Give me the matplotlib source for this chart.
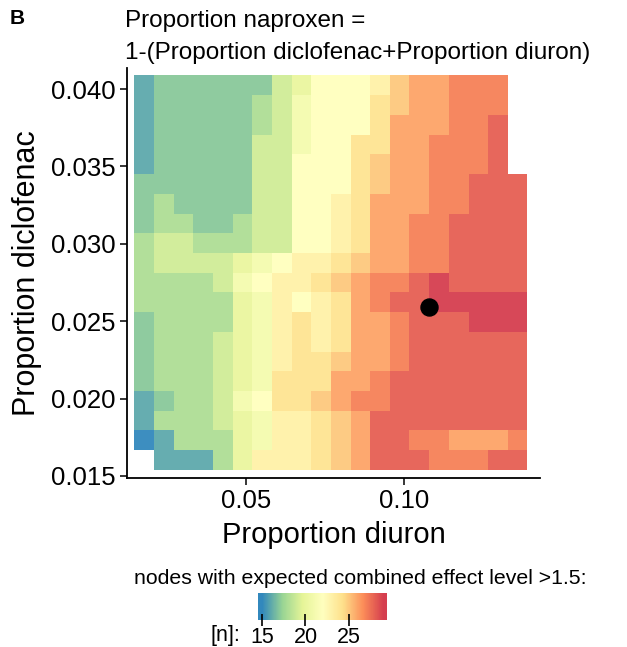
# Heatmap: nodes with expected combined effect level >1.5 over a diuron x diclofenac grid

import numpy as np
import matplotlib
matplotlib.use("Agg")
import matplotlib.pyplot as plt
from matplotlib.colors import LinearSegmentedColormap, Normalize

plt.rcParams['font.family'] = ['Liberation Sans', 'DejaVu Sans']

# grid of proportions (cell centres)
diuron = [0.0178, 0.0240, 0.0302, 0.0364, 0.0426, 0.0489, 0.0551, 0.0613, 0.0675, 0.0737,
          0.0800, 0.0862, 0.0924, 0.0986, 0.1048, 0.1111, 0.1173, 0.1235, 0.1297, 0.1359]
diclofenac = [0.01603, 0.01730, 0.01858, 0.01985, 0.02113, 0.02240, 0.02367, 0.02495, 0.02622, 0.02750,
              0.02877, 0.03004, 0.03132, 0.03259, 0.03387, 0.03514, 0.03641, 0.03769, 0.03896, 0.04024]

nan = np.nan
# number of nodes, rows listed from top (highest diclofenac) to bottom
nodes_top_down = [
    [16, 17, 17, 17, 17, 17, 17, 19, 20, 22, 22, 22, 23, 25, 26, 26, 27, 27, 27, nan],
    [16, 17, 17, 17, 17, 17, 18, 19, 21, 22, 22, 22, 24, 25, 26, 26, 27, 27, 27, nan],
    [16, 17, 17, 17, 17, 17, 18, 19, 21, 22, 22, 22, 24, 26, 26, 26, 27, 27, 28, nan],
    [16, 17, 17, 17, 17, 17, 19, 19, 21, 22, 22, 24, 24, 26, 26, 27, 27, 27, 28, nan],
    [16, 17, 17, 17, 17, 17, 19, 19, 22, 22, 22, 24, 25, 26, 26, 27, 27, 27, 28, nan],
    [17, 17, 17, 17, 17, 17, 19, 19, 22, 22, 22, 24, 25, 26, 26, 27, 27, 28, 28, 28],
    [17, 18, 17, 17, 17, 17, 19, 19, 22, 22, 23, 24, 26, 26, 26, 27, 27, 28, 28, 28],
    [17, 18, 18, 17, 17, 18, 19, 19, 22, 22, 23, 24, 26, 26, 27, 27, 28, 28, 28, 28],
    [18, 19, 19, 18, 18, 18, 19, 19, 22, 22, 23, 24, 26, 26, 27, 27, 28, 28, 28, 28],
    [18, 19, 19, 19, 19, 20, 21, 22, 23, 23, 24, 25, 26, 26, 27, 27, 28, 28, 28, 28],
    [18, 18, 18, 18, 19, 21, 22, 23, 23, 24, 25, 26, 27, 27, 28, 29, 28, 28, 28, 28],
    [18, 18, 18, 18, 18, 20, 21, 23, 22, 23, 24, 26, 27, 28, 28, 29, 29, 29, 29, 29],
    [17, 18, 18, 18, 18, 20, 21, 23, 24, 23, 24, 26, 26, 27, 28, 28, 28, 29, 29, 29],
    [17, 18, 18, 18, 19, 20, 21, 23, 24, 23, 24, 26, 26, 27, 28, 28, 28, 28, 28, 28],
    [17, 18, 18, 18, 19, 20, 21, 23, 24, 24, 25, 26, 26, 27, 28, 28, 28, 28, 28, 28],
    [17, 18, 18, 18, 19, 20, 21, 24, 24, 24, 26, 26, 27, 28, 28, 28, 28, 28, 28, 28],
    [16, 17, 18, 18, 19, 21, 22, 24, 24, 25, 26, 27, 27, 28, 28, 28, 28, 28, 28, 28],
    [16, 18, 18, 18, 19, 20, 21, 23, 23, 24, 25, 26, 28, 28, 28, 28, 28, 28, 28, 28],
    [15, 16, 18, 18, 18, 20, 21, 23, 23, 24, 25, 26, 28, 28, 27, 27, 26, 26, 26, 27],
    [nan, 16, 16, 16, 18, 20, 23, 23, 23, 24, 25, 26, 28, 28, 28, 27, 27, 27, 28, 28],
]

# highlighted mixture
point_diuron = [0.1080]
point_diclofenac = [0.02592]

cbar_ticks = [15, 20, 25]

# Spectral (7 class) reversed, like scale_fill_distiller
spectral7 = ['#3288BD', '#99D594', '#E6F598', '#FFFFBF', '#FEE08B', '#FC8D59', '#D53E4F']
cmap = LinearSegmentedColormap.from_list('spec', spectral7)
cmap.set_bad('white')

values = np.array(nodes_top_down[::-1])
norm = Normalize(vmin=np.nanmin(values), vmax=np.nanmax(values))

fig = plt.figure(figsize=(6.27, 6.47), dpi=100)
W, H = 627, 647
ax = fig.add_axes([127 / W, 1 - 478 / H, (540 - 127) / W, (478 - 68) / H])

ax.pcolormesh(diuron, diclofenac, np.ma.masked_invalid(values), cmap=cmap, norm=norm,
              shading='nearest', alpha=0.95)
ax.scatter(point_diuron, point_diclofenac, s=150, color='black', zorder=3)

ax.set_xlim(0.01234, 0.1430)
ax.set_ylim(0.01487, 0.04136)
ax.set_xticks([0.05, 0.10])
ax.set_xticklabels(['0.05', '0.10'])
ax.set_yticks([0.015, 0.020, 0.025, 0.030, 0.035, 0.040])
ax.set_yticklabels(['0.015', '0.020', '0.025', '0.030', '0.035', '0.040'])
ax.tick_params(labelsize=18.5, length=5, width=1.1, colors='black', pad=3)
for s in ['top', 'right']:
    ax.spines[s].set_visible(False)
for s in ['left', 'bottom']:
    ax.spines[s].set_linewidth(1.3)
ax.set_xlabel('Proportion diuron', fontsize=21, labelpad=6)
ax.set_ylabel('Proportion diclofenac', fontsize=22, labelpad=7)

# titles
fig.text(17 / W, 1 - 18 / H, 'B', fontsize=15, fontweight='bold', ha='center', va='center')
fig.text(125 / W, 1 - 21 / H, 'Proportion naproxen =', fontsize=17.5, ha='left', va='center')
fig.text(125 / W, 1 - 53 / H, '1-(Proportion diclofenac+Proportion diuron)', fontsize=17.5,
         ha='left', va='center')

# legend
fig.text(360 / W, 1 - 578 / H, 'nodes with expected combined effect level >1.5:',
         fontsize=15.3, ha='center', va='center')
cax = fig.add_axes([258 / W, 1 - 620 / H, 129 / W, 27 / H])
grad = np.linspace(14.54, 29.37, 300)
cax.imshow(grad[np.newaxis, :], extent=[14.54, 29.37, 0, 1], aspect='auto', cmap=cmap, norm=norm)
cax.set_xlim(14.54, 29.37)
cax.set_yticks([])
cax.set_xticks(cbar_ticks)
cax.tick_params(axis='x', direction='inout', length=8, width=1.2, labelsize=15.5, pad=1)
for s in cax.spines.values():
    s.set_visible(False)
fig.text(240 / W, 1 - 636 / H, '[n]:', fontsize=15.5, ha='right', va='center')

fig.savefig('out.png', dpi=100)
